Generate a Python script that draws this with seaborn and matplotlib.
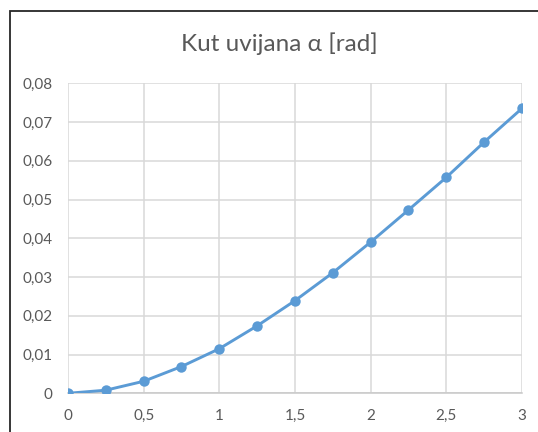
import matplotlib
matplotlib.use("Agg")
import matplotlib.pyplot as plt
import matplotlib.patches as mpatches
from matplotlib.ticker import FuncFormatter, MultipleLocator
import pandas as pd
import seaborn as sns

# data
x_vals = [0, 0.25, 0.5, 0.75, 1.0, 1.25, 1.5, 1.75, 2.0, 2.25, 2.5, 2.75, 3.0]
alpha_vals = [0.0, 0.0008, 0.0031, 0.0069, 0.0115, 0.0174, 0.0239,
              0.0311, 0.0390, 0.0473, 0.0557, 0.0648, 0.0735]
title = "Kut uvijana α [rad]"

df = pd.DataFrame({"x": x_vals, "alpha": alpha_vals})

sns.set_style("white")
plt.rcParams["font.family"] = ["Lato", "DejaVu Sans"]

fig = plt.figure(figsize=(5.38, 4.32), dpi=100)
ax = fig.add_axes([0.1264, 0.0896, 0.8436, 0.7176])

sns.lineplot(data=df, x="x", y="alpha", ax=ax, color="#5b9bd5",
             linewidth=2.1, marker="o", markersize=7.5,
             markeredgewidth=0, zorder=3)

ax.set_xlim(0, 3)
ax.set_ylim(0, 0.08)
ax.xaxis.set_major_locator(MultipleLocator(0.5))
ax.yaxis.set_major_locator(MultipleLocator(0.01))

def comma_fmt(v, pos):
    s = f"{v:.2f}".rstrip("0").rstrip(".")
    return s.replace(".", ",")

ax.xaxis.set_major_formatter(FuncFormatter(comma_fmt))
ax.yaxis.set_major_formatter(FuncFormatter(comma_fmt))

ax.grid(True, color="#d9d9d9", linewidth=1.1)
ax.set_axisbelow(True)
for side in ["top", "right", "left"]:
    ax.spines[side].set_visible(False)
ax.spines["bottom"].set_color("#c8c8c8")
ax.spines["bottom"].set_linewidth(1.1)

ax.tick_params(axis="both", length=0, labelsize=11, labelcolor="#595959")
ax.tick_params(axis="y", pad=11)
ax.tick_params(axis="x", pad=11)
ax.set_xlabel("")
ax.set_ylabel("")

fig.text(0.519, 0.9, title, ha="center", va="center",
         fontsize=17.5, color="#595959")

# chart frame (cropped at right and bottom in the reference)
frame = mpatches.Rectangle((10 / 538, -0.1), 1.2, 1 - 11 / 432 + 0.1,
                           transform=fig.transFigure, fill=False,
                           edgecolor="#262626", linewidth=1.3)
fig.patches.append(frame)

fig.savefig("out.png", dpi=100, facecolor="white")
